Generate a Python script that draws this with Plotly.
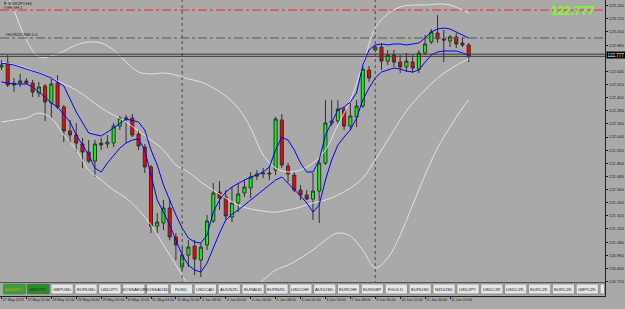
import plotly.graph_objects as go

# ---------------- data ----------------
open_ = [122.680,122.716,122.515,122.533,122.552,122.533,122.442,122.506,122.351,122.533,
         122.314,122.095,122.058,121.976,121.903,121.820,121.985,121.976,121.985,122.140,
         122.204,122.213,122.067,121.948,121.766,121.226,121.254,121.391,121.126,120.852,
         120.961,121.044,120.916,121.053,121.272,121.537,121.491,121.309,121.437,121.528,
         121.574,121.683,121.702,121.711,121.738,122.195,121.775,121.692,121.555,121.510,
         121.473,121.546,121.802,122.168,122.186,122.296,122.140,122.223,122.323,122.652,
         122.835,122.862,122.734,122.789,122.725,122.680,122.725,122.661,122.808,122.908,
         122.990,122.936,122.917,122.954,122.899,122.881]
high_ = [122.744,122.789,122.579,122.616,122.579,122.561,122.543,122.524,122.570,122.606,
         122.332,122.195,122.168,122.031,122.012,122.012,122.031,122.058,122.168,122.232,
         122.241,122.250,122.104,121.976,121.784,121.345,121.464,121.464,121.162,121.034,
         121.098,121.098,121.071,121.327,121.619,121.638,121.555,121.583,121.619,121.647,
         121.720,121.738,121.756,121.766,122.223,122.250,121.802,121.720,121.601,121.555,
         121.711,121.830,122.378,122.378,122.378,122.314,122.351,122.378,122.689,122.689,
         122.881,122.899,122.835,122.835,122.789,122.808,122.789,122.835,122.972,123.027,
         123.155,123.018,122.972,122.990,122.954,122.899]
low_ = [122.652,122.497,122.451,122.497,122.524,122.405,122.405,122.186,122.213,122.296,
        121.994,121.985,121.903,121.756,121.802,121.674,121.921,121.939,121.948,122.104,
        121.985,122.040,121.921,121.711,121.162,121.162,121.190,121.098,120.916,120.824,
        120.852,120.778,120.760,121.007,121.254,121.373,121.281,121.263,121.354,121.491,
        121.482,121.647,121.665,121.647,121.692,121.756,121.629,121.537,121.464,121.464,
        121.281,121.254,121.784,122.140,122.159,122.104,122.104,122.131,122.305,122.543,
        122.817,122.652,122.698,122.680,122.625,122.634,122.625,122.625,122.789,122.890,
        122.899,122.725,122.862,122.853,122.862,122.725]
close_ = [122.698,122.515,122.533,122.552,122.533,122.451,122.497,122.360,122.524,122.314,
          122.095,122.058,121.985,121.903,121.820,121.976,121.967,121.994,122.140,122.213,
          122.213,122.058,121.958,121.766,121.226,121.263,121.391,121.126,121.053,120.961,
          121.034,120.925,121.034,121.272,121.528,121.482,121.318,121.437,121.519,121.583,
          121.674,121.702,121.711,121.702,122.204,121.784,121.702,121.555,121.510,121.473,
          121.546,121.802,122.168,122.186,122.296,122.140,122.232,122.323,122.661,122.579,
          122.862,122.734,122.789,122.725,122.680,122.734,122.670,122.808,122.890,123.000,
          122.936,122.926,122.954,122.890,122.881,122.777]

# blue channel
blue_up_idx = [0,2,4,6,8,10,12,14,16,18,20,22,23,24,25,26,27,28,29,30,31,32,33,34,35,36,37,38,39,40,
               41,42,43,44,45,46,47,48,49,50,51,52,53,54,55,56,57,58,59,60,61,62,63,64,65,66,67,68,69,70,
               71,72,73,74,75]
blue_up = [122.716,122.698,122.661,122.625,122.579,122.506,122.268,122.076,122.049,122.122,122.204,122.177,
           122.104,121.921,121.784,121.601,121.464,121.327,121.208,121.117,121.080,121.071,121.144,121.354,
           121.464,121.537,121.583,121.619,121.647,121.674,121.692,121.720,121.766,121.921,122.040,122.012,
           121.921,121.802,121.720,121.720,121.830,122.058,122.168,122.287,122.314,122.360,122.442,122.698,
           122.835,122.881,122.890,122.881,122.890,122.890,122.881,122.890,122.899,122.945,123.000,123.027,
           123.036,123.027,123.000,122.972,122.945]
blue_lo_idx = [0,2,4,5,7,8,9,10,11,12,13,14,15,16,17,18,19,20,21,22,23,24,25,26,27,28,29,30,31,32,33,34,35,
               36,37,38,39,40,41,42,43,44,45,46,47,48,49,50,51,52,53,54,55,56,57,58,59,60,61,62,63,64,65,66,
               67,68,69,70,71,72,73,74,75]
blue_lo = [122.543,122.524,122.524,122.497,122.405,122.351,122.314,122.241,122.177,122.058,121.967,121.875,
           121.756,121.720,121.802,121.875,121.939,121.985,122.012,122.022,121.921,121.692,121.464,121.354,
           121.236,121.098,120.961,120.870,120.824,120.806,120.888,121.025,121.162,121.281,121.336,121.373,
           121.418,121.464,121.510,121.555,121.601,121.647,121.674,121.619,121.555,121.501,121.437,121.354,
           121.418,121.647,121.830,121.967,122.040,122.104,122.213,122.378,122.488,122.579,122.634,122.652,
           122.670,122.661,122.643,122.634,122.652,122.725,122.789,122.817,122.826,122.826,122.826,122.808,
           122.789]

# light bands
band_idx = [0,2,4,6,8,10,12,14,16,18,20,22,24,26,28,30,32,34,36,38,40,42,44,46,48,50,52,54,56,58,60,
            62,64,66,68,70,72,74,75]
band_up = [123.475,123.201,122.926,122.771,122.780,122.826,122.881,122.908,122.899,122.835,122.725,122.634,
           122.616,122.625,122.606,122.570,122.543,122.488,122.415,122.305,122.122,121.875,121.756,121.720,
           121.738,121.802,121.921,122.150,122.378,122.698,123.036,123.164,123.228,123.246,123.246,123.255,
           123.246,123.201,123.173]
band_mid = [122.725,122.700,122.670,122.625,122.579,122.525,122.469,122.390,122.305,122.240,122.177,122.095,
            122.012,121.921,121.784,121.720,121.629,121.555,121.482,121.418,121.382,121.363,121.354,121.373,
            121.400,121.437,121.464,121.510,121.574,121.665,121.830,122.012,122.195,122.351,122.469,122.579,
            122.661,122.725,122.753]
band_lo = [122.177,122.195,122.213,122.259,122.213,122.058,121.921,121.738,121.647,121.555,121.482,121.373,
           121.236,121.053,120.870,120.687,120.550,120.504,120.532,120.568,120.641,120.733,120.824,120.870,
           120.934,121.007,121.098,121.162,121.135,121.007,120.843,120.934,121.144,121.418,121.693,121.940,
           122.131,122.305,122.378]

# axis labels
time_idx = [0,4,8,12,16,20,24,28,32,36,40,44,48,52,56,60,64,68,72]
time_labels = ["27 May 2019","27 May 20:00","28 May 12:00","29 May 04:00","29 May 20:00","30 May 12:00",
               "31 May 04:00","31 May 20:00","3 Jun 08:00","4 Jun 00:00","4 Jun 16:00","5 Jun 08:00",
               "6 Jun 00:00","6 Jun 16:00","7 Jun 08:00","9 Jun 20:00","10 Jun 12:00","11 Jun 04:00",
               "11 Jun 20:00"]
price_ticks = [123.240,123.120,123.000,122.880,122.640,122.520,122.400,122.280,122.160,122.040,121.920,
               121.800,121.680,121.560,121.440,121.320,121.200,121.080,120.960,120.840,120.720]
separators = [29, 60]
red_level = 123.20
gray_level = 122.945
hline_level = 122.797
bid = 122.777
tabs = ["EURJPY.","GBPJPY.","GBPUSD.","EURUSD.","USDJPY.","XOSSAEUR","XOSSAUSD.","FUSD.","USDCAD.",
        "AUDNZD.","EURAUD.","EURNZD.","USDCHF.","AUDUSD.","EURCHF.","EURGBP.","FGOLD.","EURUSD",
        "NZDUSD.","USDJPY","USDCZK","USDCZK.","EURCZK.","EURCZK","GBPCZK.","A"]

# ---------------- figure ----------------
W, H = 625, 309
PL, PR, PT, PB = 0, 607, 0, 296
BG = "#A9A9A9"

def px(x):
    return (x - PL) / (PR - PL)

def py(y):
    return (PB - y) / (PB - PT)

idx = list(range(len(open_)))
fig = go.Figure()

for xs, ys in [(band_idx, band_up), (band_idx, band_mid), (band_idx, band_lo)]:
    fig.add_trace(go.Scatter(x=xs, y=ys, mode="lines", line=dict(color="#E2E2E2", width=1, shape="spline"),
                             hoverinfo="skip", showlegend=False))
fig.add_trace(go.Scatter(x=blue_up_idx, y=blue_up, mode="lines",
                         line=dict(color="#0000FF", width=1), showlegend=False))
fig.add_trace(go.Scatter(x=blue_lo_idx, y=blue_lo, mode="lines",
                         line=dict(color="#0000FF", width=1), showlegend=False))

fig.add_trace(go.Candlestick(
    x=idx, open=open_, high=high_, low=low_, close=close_,
    increasing=dict(fillcolor="#00FF00", line=dict(color="#303030", width=1)),
    decreasing=dict(fillcolor="#FF0000", line=dict(color="#303030", width=1)),
    whiskerwidth=0, showlegend=False))

shapes = []
for s in separators:
    shapes.append(dict(type="line", xref="x", yref="paper", x0=s, x1=s, y0=0, y1=1,
                       line=dict(color="#4a4a4a", width=1, dash="dot")))
shapes.append(dict(type="line", xref="paper", yref="y", x0=0, x1=1, y0=red_level, y1=red_level,
                   line=dict(color="#FF2020", width=1, dash="dashdot")))
shapes.append(dict(type="line", xref="paper", yref="y", x0=0, x1=1, y0=gray_level, y1=gray_level,
                   line=dict(color="#5a5a5a", width=1, dash="dashdot")))
for lv in (hline_level, bid):
    shapes.append(dict(type="line", xref="paper", yref="y", x0=0, x1=1, y0=lv, y1=lv,
                       line=dict(color="#3a3a3a", width=1)))

shapes.append(dict(type="rect", xref="paper", yref="paper", x0=px(0), x1=px(607), y0=py(296), y1=py(282.5),
                   fillcolor=BG, line=dict(width=0), layer="above"))
shapes.append(dict(type="line", xref="paper", yref="paper", x0=px(0), x1=px(607), y0=py(282.5), y1=py(282.5),
                   line=dict(color="#555555", width=1), layer="above"))
annotations = []
for k, t in enumerate(tabs):
    x0 = 3.3 + 23.95 * k
    x1 = min(x0 + 22.3, 606.5)
    if k == 0:
        fc, tc = "#3A9E3A", "#E0A000"
    elif k == 1:
        fc, tc = "#2C8A2C", "#123812"
    else:
        fc, tc = "#E6E6E6", "#202020"
    shapes.append(dict(type="rect", xref="paper", yref="paper", x0=px(x0), x1=px(x1), y0=py(294), y1=py(284),
                       fillcolor=fc, line=dict(color="#6a6a6a", width=0.6), layer="above"))
    if x1 - x0 > 10:
        annotations.append(dict(xref="paper", yref="paper", x=px((x0 + x1) / 2), y=py(289), text=t,
                                showarrow=False, font=dict(size=4.3, color=tc, family="Liberation Sans"),
                                xanchor="center", yanchor="middle"))

annotations += [
    dict(xref="paper", yref="paper", x=px(1), y=py(3.5), text="▼ EURJPY,H4", showarrow=False,
         xanchor="left", yanchor="middle", font=dict(size=4.3, color="#202020", family="Liberation Sans")),
    dict(xref="paper", yref="paper", x=px(1), y=py(8), text="#VHIGH 1", showarrow=False,
         xanchor="left", yanchor="middle", font=dict(size=4.3, color="#202020", family="Liberation Sans")),
    dict(xref="paper", yref="paper", x=px(3), y=py(35), text="#HORIZLINE 0.0", showarrow=False,
         xanchor="left", yanchor="middle", font=dict(size=4.3, color="#202020", family="Liberation Sans")),
    dict(xref="paper", yref="paper", x=px(599), y=py(11), text="<b>122.777</b>", showarrow=False,
         xanchor="right", yanchor="middle", font=dict(size=12, color="#7FFF2A", family="Liberation Sans")),
    dict(xref="paper", yref="y", x=1.0, y=bid + 0.011, text="122.777", showarrow=False, xanchor="left",
         yanchor="middle", xshift=1, bgcolor="#000000", borderpad=0.5,
         font=dict(size=4.5, color="#FFFFFF", family="Liberation Sans")),
]

fig.update_layout(
    width=W, height=H, margin=dict(l=PL, r=W - PR, t=PT, b=H - PB),
    paper_bgcolor=BG, plot_bgcolor=BG, showlegend=False,
    shapes=shapes, annotations=annotations,
    xaxis=dict(range=[-0.24, 96.88], showgrid=False, zeroline=False, rangeslider=dict(visible=False),
               tickmode="array", tickvals=time_idx, ticktext=time_labels, ticks="outside", ticklen=2,
               tickcolor="#202020", ticklabelposition="outside right", tickangle=0,
               tickfont=dict(size=3.7, color="#202020", family="Liberation Sans"),
               showline=True, linecolor="#202020", linewidth=1, fixedrange=True),
    yaxis=dict(range=[120.587, 123.292], side="right", showgrid=False, zeroline=False,
               tickmode="array", tickvals=price_ticks, ticktext=[f"{v:.3f}" for v in price_ticks],
               ticks="outside", ticklen=2, tickcolor="#202020",
               tickfont=dict(size=4.2, color="#202020", family="Liberation Sans"),
               showline=True, linecolor="#202020", linewidth=1, fixedrange=True),
)

fig.write_html("out.html")
